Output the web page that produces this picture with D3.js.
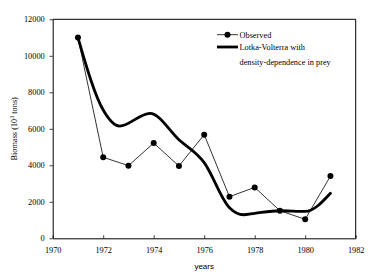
<!DOCTYPE html>
<html>
<head>
<meta charset="utf-8">
<script src="https://cdn.jsdelivr.net/npm/d3@7"></script>
<style>
  body { margin: 0; background: #fff; }
  svg { display: block; }
</style>
</head>
<body>
<div id="chart"></div>
<script>
// observed biomass
var obsYears = [1971, 1972, 1973, 1974, 1975, 1976, 1977, 1978, 1979, 1980, 1981]
var obsValues = [11000, 4440, 3980, 5220, 3960, 5680, 2280, 2790, 1510, 1040, 3410]

// model curve
var modelYears = [1971, 1972, 1972.65, 1973.85, 1975, 1976, 1977, 1977.55, 1978, 1979, 1980, 1981]
var modelValues = [11000, 7030, 6150, 6850, 5400, 4150, 1680, 1290, 1370, 1510, 1470, 2470]

var xTicks = [1970, 1972, 1974, 1976, 1978, 1980, 1982]
var yTicks = [0, 2000, 4000, 6000, 8000, 10000, 12000]

var width = 374
var height = 274
// plot edges (note: "top" is reserved on window, so use px/py names)
var pxLeft = 52.7, pxRight = 355.7, pyTop = 19.3, pyBottom = 238.3
var serif = "'Liberation Serif', 'Times New Roman', serif"

var svg = d3.select('#chart').append('svg')
    .attr('width', width)
    .attr('height', height)

var xScale = d3.scaleLinear().domain([1970, 1982]).range([pxLeft, pxRight])
var yScale = d3.scaleLinear().domain([0, 12000]).range([pyBottom, pyTop])

// frame top and right
svg.append('path')
    .attr('d', `M ${pxLeft} ${pyTop} L ${pxRight} ${pyTop} L ${pxRight} ${pyBottom}`)
    .attr('fill', 'none')
    .attr('stroke', '#000')
    .attr('stroke-width', 1)

// x axis
var xAxis = d3.axisBottom(xScale).tickValues(xTicks).tickFormat(d3.format('d')).tickSizeInner(-3).tickSizeOuter(0).tickPadding(9)
var xG = svg.append('g').attr('transform', `translate(0, ${pyBottom})`).call(xAxis)

// y axis
var yAxis = d3.axisLeft(yScale).tickValues(yTicks).tickFormat(d3.format('d')).tickSizeInner(3).tickSizeOuter(0).tickPadding(5)
var yG = svg.append('g').attr('transform', `translate(${pxLeft}, 0)`).call(yAxis)

;[xG, yG].forEach(function (g) {
    g.select('.domain').attr('stroke', '#000').attr('stroke-width', 1)
    g.selectAll('.tick line').attr('stroke', '#000').attr('stroke-width', 0.8)
    g.selectAll('.tick text')
        .style('font-family', serif)
        .style('font-size', '8.3px')
        .attr('fill', '#000')
})

// axis titles
svg.append('text')
    .attr('x', (pxLeft + pxRight) / 2)
    .attr('y', 269)
    .attr('text-anchor', 'middle')
    .style('font-family', "'Liberation Sans', Arial, sans-serif")
    .style('font-size', '8px')
    .text('years')

var yLab = svg.append('text')
    .attr('transform', `translate(17, ${(pyTop + pyBottom) / 2}) rotate(-90)`)
    .attr('text-anchor', 'middle')
    .style('font-family', serif)
    .style('font-size', '8.3px')
yLab.append('tspan').text('Biomass (10')
yLab.append('tspan').attr('dy', -3.5).style('font-size', '6px').text('3')
yLab.append('tspan').attr('dy', 3.5).text(' tons)')

// observed line
var obsData = obsYears.map(function (y, i) { return [y, obsValues[i]] })
var line = d3.line().x(d => xScale(d[0])).y(d => yScale(d[1]))
svg.append('path')
    .attr('d', line(obsData))
    .attr('fill', 'none')
    .attr('stroke', '#000')
    .attr('stroke-width', 0.8)

svg.selectAll('circle.obs').data(obsData).enter().append('circle')
    .attr('class', 'obs')
    .attr('cx', d => xScale(d[0]))
    .attr('cy', d => yScale(d[1]))
    .attr('r', 3)
    .attr('fill', '#000')

// model curve
var modelData = modelYears.map(function (y, i) { return [y, modelValues[i]] })
var curve = d3.line().x(d => xScale(d[0])).y(d => yScale(d[1])).curve(d3.curveMonotoneX)
svg.append('path')
    .attr('d', curve(modelData))
    .attr('fill', 'none')
    .attr('stroke', '#000')
    .attr('stroke-width', 2.8)
    .attr('stroke-linecap', 'round')

// legend
var legG = svg.append('g')
legG.append('line').attr('x1', 217).attr('x2', 238).attr('y1', 34.7).attr('y2', 34.7).attr('stroke', '#000').attr('stroke-width', 0.8)
legG.append('circle').attr('cx', 227.5).attr('cy', 34.7).attr('r', 3).attr('fill', '#000')
legG.append('line').attr('x1', 217).attr('x2', 238).attr('y1', 47).attr('y2', 47).attr('stroke', '#000').attr('stroke-width', 2.8)

var legendText = [['Observed', 37.5], ['Lotka-Volterra with', 50], ['density-dependence in prey', 65]]
legendText.forEach(function (t) {
    legG.append('text')
        .attr('x', 239.5)
        .attr('y', t[1])
        .style('font-family', serif)
        .style('font-size', '8.3px')
        .text(t[0])
})
</script>
</body>
</html>
